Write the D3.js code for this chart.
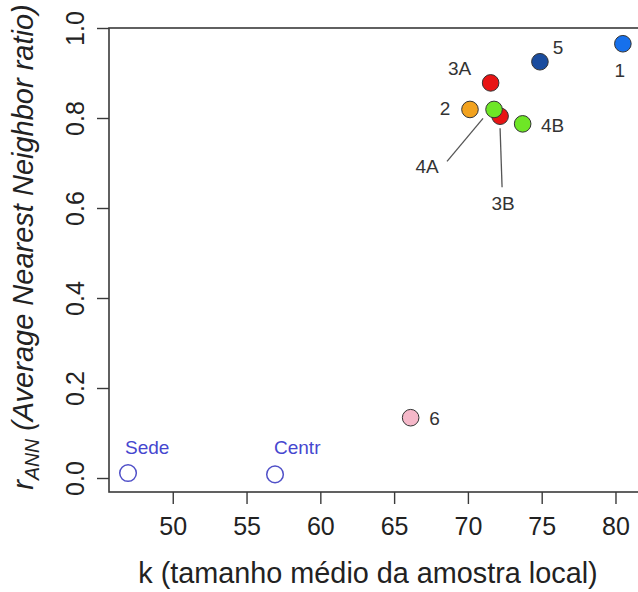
<!DOCTYPE html>
<html>
<head>
<meta charset="utf-8">
<script src="https://cdn.jsdelivr.net/npm/d3@7"></script>
<style>
  html, body { margin: 0; padding: 0; background: #fff; }
  svg { display: block; font-family: Arial, "Liberation Sans", Helvetica, sans-serif; }
</style>
</head>
<body>
<svg id="chart" width="638" height="592"></svg>
<script>
// Sampling sites: mean local sample size k vs. average nearest-neighbour ratio
const sites  = ["Sede", "Centr", "6", "1", "5", "3A", "2", "3B", "4A", "4B"];
const kMean  = [46.97, 56.93, 66.12, 80.50, 74.88, 71.54, 70.14, 72.18, 71.77, 73.71];
const rANN   = [0.011, 0.008, 0.134, 0.965, 0.925, 0.878, 0.819, 0.804, 0.819, 0.787];
const xTicks = [50, 55, 60, 65, 70, 75, 80];
const yTicks = [0.0, 0.2, 0.4, 0.6, 0.8, 1.0];

// fill per site (null = open symbol)
const fillBySite = {
  "Sede": null, "Centr": null, "6": "#f5b8c9", "1": "#1670ec", "5": "#1a4c9e",
  "3A": "#e81414", "3B": "#e81414", "2": "#f2a21e", "4A": "#6ee626", "4B": "#6ee626"
};
// label placement relative to the marker (px)
const labelPos = {
  "Sede": {dx: -3, dy: -26, anchor: "start", color: "#4646cf"},
  "Centr": {dx: -1, dy: -27, anchor: "start", color: "#4646cf"},
  "6": {dx: 24, dy: 0}, "1": {dx: -3, dy: 26}, "5": {dx: 18, dy: -15},
  "3A": {dx: -31, dy: -15}, "2": {dx: -25, dy: -1}, "4B": {dx: 30, dy: 1},
  "4A": {dx: -67, dy: 57, line: [-11, 9, -47, 52]},
  "3B": {dx: 3, dy: 87, line: [0, 12, 2, 71]}
};

const svg = d3.select("#chart");
const margin = {left: 109, top: 28, right: 645, bottom: 492};

const x = d3.scaleLinear().domain([45.68, 82.0]).range([margin.left, margin.right]);
const y = d3.scaleLinear().domain([-0.0311, 1.0]).range([margin.bottom, margin.top]);

const axisColor = "#3a3a3a";

// plot frame
svg.append("rect")
  .attr("x", margin.left).attr("y", margin.top)
  .attr("width", margin.right - margin.left).attr("height", margin.bottom - margin.top)
  .attr("fill", "none").attr("stroke", axisColor).attr("stroke-width", 1.6);

// x axis
const xAxis = svg.append("g")
  .attr("transform", `translate(0,${margin.bottom})`)
  .call(d3.axisBottom(x).tickValues(xTicks).tickSize(12).tickPadding(13).tickFormat(d3.format("d")));
xAxis.select(".domain").remove();
xAxis.selectAll("line").attr("stroke", axisColor).attr("stroke-width", 1.4);
xAxis.selectAll("text").attr("font-size", 25).attr("fill", "#222").attr("font-family", null);

// y axis with rotated labels
const yAxis = svg.append("g")
  .attr("transform", `translate(${margin.left},0)`)
  .call(d3.axisLeft(y).tickValues(yTicks).tickSize(12).tickFormat(d3.format(".1f")));
yAxis.select(".domain").remove();
yAxis.selectAll("line").attr("stroke", axisColor).attr("stroke-width", 1.4);
yAxis.selectAll("text")
  .attr("font-size", 25).attr("fill", "#222").attr("font-family", null)
  .attr("x", null).attr("dy", null)
  .attr("text-anchor", "middle")
  .attr("transform", "translate(-25,0) rotate(-90)");

// axis titles
svg.append("text")
  .attr("x", 368).attr("y", 583)
  .attr("text-anchor", "middle")
  .attr("font-size", 28.8).attr("fill", "#222")
  .text("k (tamanho médio da amostra local)");

const yTitle = svg.append("text")
  .attr("transform", "translate(33,247) rotate(-90)")
  .attr("text-anchor", "middle")
  .attr("font-size", 29).attr("fill", "#222")
  .attr("font-style", "italic");
yTitle.append("tspan").text("r");
yTitle.append("tspan").attr("font-size", 19.5).attr("dy", 6).text("ANN");
yTitle.append("tspan").attr("dy", -6).text(" (Average Nearest Neighbor ratio)");

const pts = sites.map((s, i) => ({site: s, k: kMean[i], r: rANN[i]}));

// leader lines
svg.append("g").selectAll("line")
  .data(pts.filter(d => labelPos[d.site].line))
  .join("line")
  .attr("x1", d => x(d.k) + labelPos[d.site].line[0])
  .attr("y1", d => y(d.r) + labelPos[d.site].line[1])
  .attr("x2", d => x(d.k) + labelPos[d.site].line[2])
  .attr("y2", d => y(d.r) + labelPos[d.site].line[3])
  .attr("stroke", "#555").attr("stroke-width", 1.3);

// markers
svg.append("g").selectAll("circle")
  .data(pts)
  .join("circle")
  .attr("cx", d => x(d.k))
  .attr("cy", d => y(d.r))
  .attr("r", 8.3)
  .attr("fill", d => fillBySite[d.site] || "#fff")
  .attr("stroke", d => fillBySite[d.site] ? "#333" : "#5050c8")
  .attr("stroke-width", d => fillBySite[d.site] ? 1 : 1.5);

// site labels
svg.append("g").selectAll("text")
  .data(pts)
  .join("text")
  .attr("x", d => x(d.k) + labelPos[d.site].dx)
  .attr("y", d => y(d.r) + labelPos[d.site].dy)
  .attr("dy", "0.36em")
  .attr("text-anchor", d => labelPos[d.site].anchor || "middle")
  .attr("font-size", 19)
  .attr("fill", d => labelPos[d.site].color || "#333")
  .text(d => d.site);
</script>
</body>
</html>
